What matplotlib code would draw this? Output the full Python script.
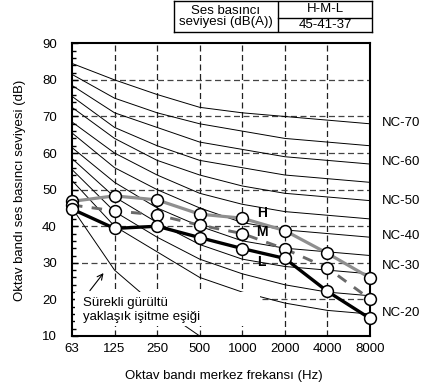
import matplotlib
matplotlib.use('Agg')
import matplotlib.pyplot as plt
import matplotlib.transforms as mtransforms
from matplotlib.patches import Rectangle
import numpy as np

plt.rcParams['font.family'] = ['Liberation Sans', 'DejaVu Sans']

# ---------------- data ----------------
freq_labels = ['63', '125', '250', '500', '1000', '2000', '4000', '8000']

level_H = [46.8, 48.3, 47.2, 43.3, 42.2, 38.8, 32.6, 25.9]
level_M = [45.8, 44.2, 43.1, 40.3, 38.0, 33.8, 28.6, 20.1]
level_L = [44.7, 39.4, 40.0, 36.9, 33.9, 31.2, 22.2, 14.8]

nc_names = ['NC-20', 'NC-25', 'NC-30', 'NC-35', 'NC-40', 'NC-45',
            'NC-50', 'NC-55', 'NC-60', 'NC-65', 'NC-70']
nc20 = [52.5, 40, 33, 26, 22, 19, 17, 16]
nc25 = [55.5, 44, 37, 31, 27, 24, 22, 21]
nc30 = [58.5, 48, 41, 35, 31, 29, 28, 27]
nc35 = [61.5, 52, 45, 40, 36, 34, 33, 32]
nc40 = [65.5, 56, 50, 45, 41, 39, 38, 37]
nc45 = [68.5, 60, 54, 49, 46, 44, 43, 42]
nc50 = [72.5, 64, 58, 54, 51, 49, 48, 47]
nc55 = [75.5, 67, 62, 58, 56, 54, 53, 52]
nc60 = [78.5, 71, 67, 63, 61, 59, 58, 57]
nc65 = [81.5, 75, 71, 68, 66, 64, 63, 62]
nc70 = [84.5, 80, 76, 72.5, 71, 70, 69, 68]
nc_curves = [nc20, nc25, nc30, nc35, nc40, nc45, nc50, nc55, nc60, nc65, nc70]

labelled_nc = ['NC-70', 'NC-60', 'NC-50', 'NC-40', 'NC-30', 'NC-20']
labelled_nc_y = [68.2, 57.6, 47.0, 37.3, 29.0, 16.4]

threshold = [45, 28, 18, 10]   # 63..500 Hz

table_left = 'Ses basıncı\nseviyesi (dB(A))'
table_right_top = 'H-M-L'
table_right_bottom = '45-41-37'

y_label = 'Oktav bandı ses basıncı seviyesi (dB)'
x_label = 'Oktav bandı merkez frekansı (Hz)'
threshold_text = 'Sürekli gürültü\nyaklaşık işitme eşiği'

# ---------------- figure ----------------
W, Hpx = 430, 389
fig = plt.figure(figsize=(W / 100, Hpx / 100), dpi=100)
ax = fig.add_axes([72 / W, 1 - 336 / Hpx, 298 / W, (336 - 43.3) / Hpx])

x = np.arange(len(freq_labels))
ax.set_xlim(0, 7)
ax.set_ylim(10, 90)

# grid
for v in range(1, 7):
    ax.plot([v, v], [10, 90], color='#222222', lw=0.9,
            dashes=(4.8, 2.8), zorder=1)
for h in range(20, 90, 10):
    ax.plot([0, 7], [h, h], color='#444444', lw=0.9,
            dashes=(4.8, 2.8), zorder=1)

# NC curves
for c in nc_curves:
    ax.plot(x, c, color='black', lw=0.7, zorder=2)

# hearing threshold
ax.plot(x[:len(threshold)], threshold, color='black', lw=0.7, zorder=2)

# white box behind the threshold note
ax.add_patch(Rectangle((0.07, 12.7), 4.34, 9.3, facecolor='white',
                       edgecolor='none', zorder=4))
ax.text(0.26, 17.2, threshold_text, fontsize=9.5, ha='left', va='center',
        linespacing=1.25, zorder=5)
ax.annotate('', xy=(0.74, 27.2), xytext=(0.42, 22.4),
            arrowprops=dict(arrowstyle='->', color='black', lw=0.8,
                            shrinkA=0, shrinkB=0), zorder=5)

# series
mk = dict(marker='o', markersize=8.5, markerfacecolor='white',
          markeredgecolor='black', markeredgewidth=1.1, clip_on=False)
ax.plot(x, level_H, color='#8f8f8f', lw=2.3, zorder=7, **mk)
ax.plot(x, level_M, color='#6a6a6a', lw=2.1, dashes=(3.6, 3.2),
        zorder=8, **mk)
ax.plot(x, level_L, color='black', lw=2.4, zorder=9, **mk)

ax.text(4.46, 43.5, 'H', fontsize=10, fontweight='bold', ha='center',
        va='center', zorder=10)
ax.text(4.46, 38.3, 'M', fontsize=10, fontweight='bold', ha='center',
        va='center', zorder=10)
ax.text(4.44, 30.1, 'L', fontsize=10, fontweight='bold', ha='center',
        va='center', zorder=10)

# NC labels
trans = mtransforms.blended_transform_factory(ax.transAxes, ax.transData)
for name, yv in zip(labelled_nc, labelled_nc_y):
    ax.text(1.04, yv, name, transform=trans, fontsize=9.5, ha='left',
            va='center')

# ticks
ax.set_xticks(x)
ax.set_xticklabels(freq_labels, fontsize=9.5)
ax.tick_params(axis='x', length=0, pad=5)
ax.set_yticks(range(10, 91, 10))
ax.set_yticks(range(10, 91, 2), minor=True)
ax.tick_params(axis='y', which='both', direction='in', pad=11,
               labelsize=9.5, right=False)
ax.tick_params(axis='y', which='major', length=4, width=1)
ax.tick_params(axis='y', which='minor', length=3, width=1)
for s in ax.spines.values():
    s.set_linewidth(1.5)

fig.text(20 / W, 1 - 190 / Hpx, y_label, rotation=90, ha='center',
         va='center', fontsize=9.5)
fig.text(224 / W, 1 - 376 / Hpx, x_label, ha='center', va='center',
         fontsize=9.5)

# table
tax = fig.add_axes([174 / W, 1 - 32 / Hpx, (372 - 174) / W, 31 / Hpx])
tax.set_xlim(0, 1)
tax.set_ylim(0, 1)
tax.set_xticks([])
tax.set_yticks([])
for s in tax.spines.values():
    s.set_linewidth(1.0)
xdiv = (278 - 174) / (372 - 174)
tax.plot([xdiv, xdiv], [0, 1], color='black', lw=1.0)
tax.plot([xdiv, 1], [0.46, 0.46], color='black', lw=1.0)
tax.text(xdiv / 2, 0.5, table_left, ha='center', va='center',
         fontsize=9.5, linespacing=1.0)
tax.text((xdiv + 1) / 2, 0.73, table_right_top, ha='center', va='center',
         fontsize=9.5)
tax.text((xdiv + 1) / 2, 0.24, table_right_bottom, ha='center',
         va='center', fontsize=9.5)

fig.savefig('out.png', dpi=100)
